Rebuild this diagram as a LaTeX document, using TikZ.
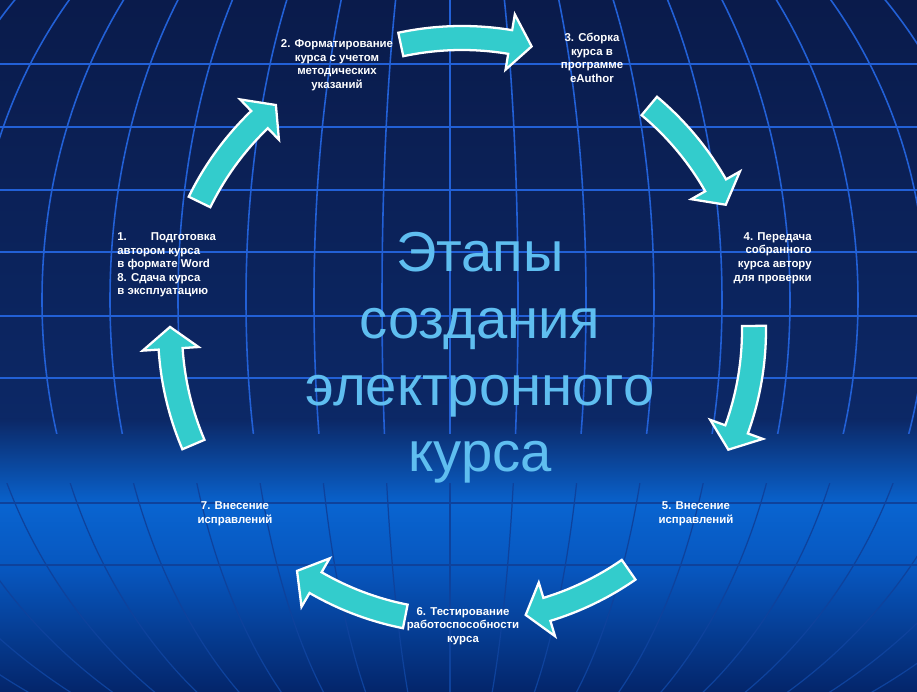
\documentclass[tikz,border=0pt]{standalone}
\usepackage{fontspec}
\setmainfont{Liberation Sans}
\usepackage{xcolor}
\usepackage{tikz}

\definecolor{bgtop}{RGB}{10,27,75}
\definecolor{bgmid}{RGB}{12,40,102}
\definecolor{bgbright}{RGB}{9,100,208}
\definecolor{bglow}{RGB}{7,86,190}
\definecolor{bgbottom}{RGB}{4,37,106}
\definecolor{gridlight}{RGB}{34,96,214}
\definecolor{griddark}{RGB}{14,66,156}
\definecolor{arrowcyan}{RGB}{51,204,204}
\definecolor{titleblue}{RGB}{95,190,240}

% meridians and parallels of the globe backdrop
\newcommand{\globegrid}{%
  \foreach \gy in {628,565,502,440,376,314,251,189,127}
    \draw (0,\gy) -- (917,\gy);
  \draw (450,0) -- (450,692);
  \foreach \ga in {68,136,...,680}
    \draw (450,392) ellipse [x radius=\ga, y radius=500];
}

\begin{document}
\begin{tikzpicture}[x=0.02cm, y=0.02cm,
  every node/.style = {inner sep=0pt, text=white,
                       font=\bfseries\fontsize{6.5}{7.7}\selectfont},
  lbl/.style      = {align=center},
  headline/.style = {align=center, text=titleblue,
                     font=\fontsize{32}{38}\selectfont},
  cyc/.style      = {fill=arrowcyan, draw=white, line width=1.3pt},
  gridline/.style = {line width=0.9pt}
]

%% ── BACKGROUND ───────────────────────────────────────────────────
\useasboundingbox (0,0) rectangle (917,692);
\clip (0,0) rectangle (917,692);
\shade[top color=bgtop, bottom color=bgmid]      (0,272) rectangle (917,692);
\shade[top color=bgmid, bottom color=bgbright]   (0,186) rectangle (917,273);
\shade[top color=bgbright, bottom color=bglow]   (0,121) rectangle (917,187);
\shade[top color=bglow, bottom color=bgbottom]   (0,0)   rectangle (917,122);

%% ── GLOBE GRID (light above, dark below) ─────────────────────────
\begin{scope}[gridline, color=gridlight]
  \clip (0,258) rectangle (917,692);
  \globegrid
\end{scope}
\begin{scope}[gridline, line width=0.7pt, color=griddark]
  \clip (0,0) rectangle (917,208);
  \globegrid
\end{scope}

%% ── CYCLE ARROWS (clockwise, tail/tip angles) ───────────────────
\foreach \s/\e in {102.1/76.2, 50.1/25.4, 0.8/-24.2, -55.2/-77.4,
                   -101.2/-124.4, -156.9/-180.6, 154/129.6}{
  \pgfmathsetmacro\hb{\e+4.3}
  \draw[cyc, shift={(462,362)}] (\s:304) arc[start angle=\s, end angle=\hb, radius=304]
    -- (\hb:320) -- (\e:292) -- (\hb:264) -- (\hb:280)
    arc[start angle=\hb, end angle=\s, radius=280] -- cycle;
}

%% ── STAGE LABELS ─────────────────────────────────────────────────
\node[anchor=west, align=left] at (117,427) (s1)
  {1.\hspace{0.48cm}Подготовка\\автором курса\\в формате Word\\8. Сдача курса\\в эксплуатацию};
\node[lbl] at (337,627) (s2) {2. Форматирование\\курса с учетом\\методических\\указаний};
\node[lbl] at (592,634) (s3) {3. Сборка\\курса в\\программе\\eAuthor};
\node[anchor=east, align=right] at (812,434) (s4)
  {4. Передача\\собранного\\курса автору\\для проверки};
\node[lbl] at (696,178) (s5) {5. Внесение\\исправлений};
\node[lbl] at (463,66)  (s6) {6. Тестирование\\работоспособности\\курса};
\node[lbl] at (235,178) (s7) {7. Внесение\\исправлений};

%% ── TITLE ────────────────────────────────────────────────────────
\node[headline, anchor=north] at (480,460) (title)
  {Этапы\\создания\\электронного\\курса};

\end{tikzpicture}
\end{document}
